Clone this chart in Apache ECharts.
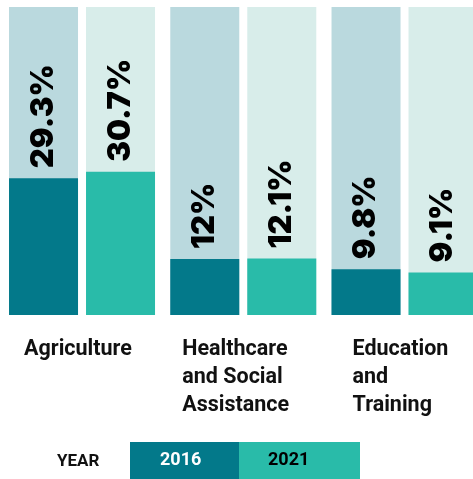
<!DOCTYPE html>
<html>
<head>
<meta charset="utf-8">
<style>html,body{margin:0;padding:0;background:#fff;}#c{width:473px;height:479px;}</style>
<script src="https://cdn.jsdelivr.net/npm/echarts@6/dist/echarts.min.js"></script>
</head>
<body>
<div id="c"></div>
<script>
var categories = ['Agriculture', 'Healthcare\nand Social\nAssistance', 'Education\nand\nTraining'];
var years = ['2016', '2021'];
var values2016 = [29.3, 12, 9.8];
var values2021 = [30.7, 12.1, 9.1];
var axisMax = 66;

var labelShift = [-58, -61, -52];
var C_DARK = '#03798A', C_TEAL = '#29BBA9', C_BG1 = '#BAD9DE', C_BG2 = '#D8EDEA';
var HEAVY = 'Inter, Roboto, "DejaVu Sans", sans-serif';
var BODY = 'Roboto, Lato, "Open Sans", sans-serif';

var chart = echarts.init(document.getElementById('c'), null, {renderer: 'canvas'});

function barSeries(name, data, color, bg) {
  return {
    name: name, type: 'bar', data: data,
    barWidth: 69, barGap: (8 / 69 * 100) + '%',
    itemStyle: {color: color},
    showBackground: true,
    backgroundStyle: {color: bg},
    label: {
      show: true, position: 'top', rotate: 90, align: 'left', verticalAlign: 'middle',
      distance: 10, color: '#000', fontFamily: HEAVY, fontWeight: 900, fontSize: 31,
      formatter: function (p) { return p.value + '%'; }
    },
    emphasis: {disabled: true}
  };
}

chart.setOption({
  animation: false,
  title: {
    text: 'YEAR', left: 57, top: 453, padding: 0,
    textStyle: {fontFamily: BODY, fontWeight: 'bold', fontSize: 17, color: '#111'}
  },
  legend: {
    left: 125, top: 442, padding: 0, itemGap: -5, itemWidth: 0, itemHeight: 0, icon: 'none',
    selectedMode: false,
    data: [
      {name: years[0], textStyle: {backgroundColor: C_DARK, color: '#fff', width: 79, height: 37, lineHeight: 40,
        padding: [0, 0, 0, 30], fontFamily: BODY, fontWeight: 'bold', fontSize: 18}},
      {name: years[1], textStyle: {backgroundColor: C_TEAL, color: '#000', width: 92, height: 37, lineHeight: 40,
        padding: [0, 0, 0, 29], fontFamily: BODY, fontWeight: 'bold', fontSize: 18}}
    ]
  },
  grid: {left: 1.4, width: 483.75, top: 7, bottom: 164, containLabel: false, outerBoundsMode: 'none'},
  xAxis: {
    type: 'category',
    data: categories.map(function (c, i) {
      return {value: c, textStyle: {align: 'left', padding: [0, 0, 0, labelShift[i]]}};
    }),
    axisLine: {show: false}, axisTick: {show: false},
    axisLabel: {
      interval: 0, align: 'left', verticalAlign: 'top', margin: 21,
      fontFamily: BODY, fontWeight: 'bold', fontSize: 21.5, lineHeight: 27.8, color: '#111'
    }
  },
  yAxis: {type: 'value', min: 0, max: axisMax, show: false, splitLine: {show: false}},
  series: [
    barSeries(years[0], values2016, C_DARK, C_BG1),
    barSeries(years[1], values2021, C_TEAL, C_BG2)
  ]
});
</script>
</body>
</html>
